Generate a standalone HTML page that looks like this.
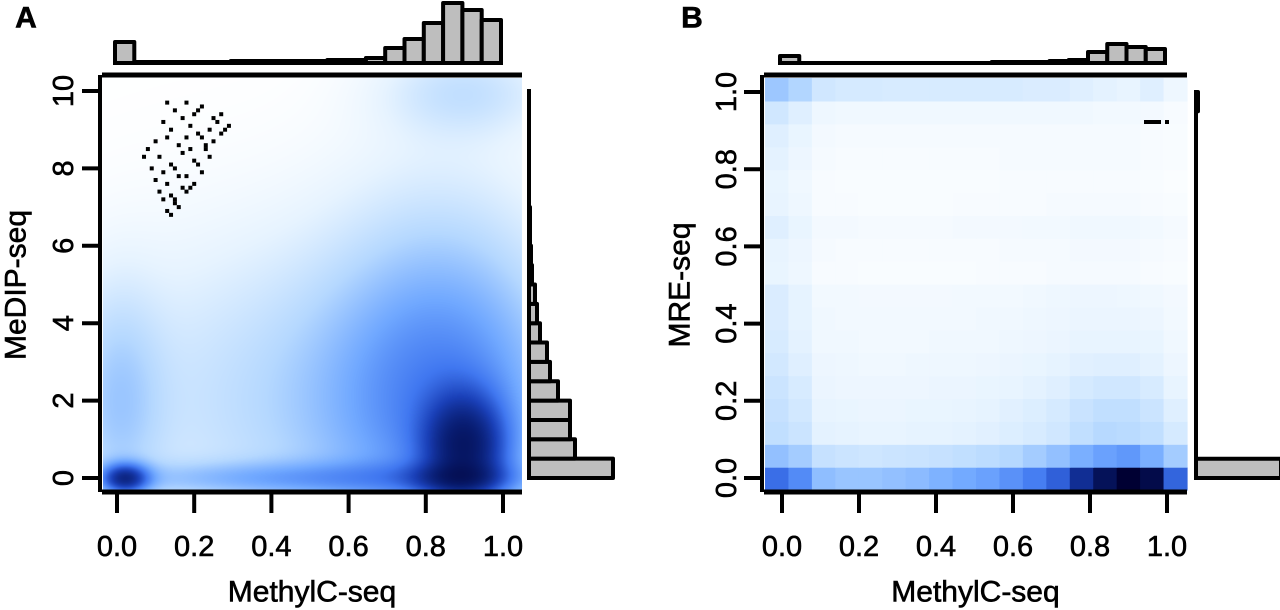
<!DOCTYPE html>
<html><head><meta charset="utf-8">
<style>
html,body{margin:0;padding:0;background:#fff;}
#wrap{position:relative;width:1280px;height:610px;overflow:hidden;font-family:"Liberation Sans",sans-serif;}
canvas{position:absolute;}
svg{position:absolute;left:0;top:0;}
</style></head>
<body>
<div id="wrap">
<canvas id="densA" width="419" height="412" style="left:103px;top:78px;width:419px;height:412px"></canvas>
<svg id="svg" width="1280" height="610"></svg>
</div>
<script>
// ---------- DATA ----------
const histATop = [21,1,1,1,1,1,2,2,2,2,2,3,3,5,15,24,40,60,53,43];
const histARight = [84,46,41,41,29,21,18,11,8,6,3,2,1,1,0,0,0,0,0,0];
const histBTop = [7,0,0,0,0,0,0,0,0,0,0,1,1,1,2,3,11,19,16,14];
const histBRight = [85,0,0,0,0,0,0,0,0,0,0,0,0,0,0,0,0,0,0,2];
// Panel A density mixture components
const compX = [0.9, 0.88, 0.02, 0.5, 0.85, 0.5, 0.9, 0.0, 0.85];
const compY = [0.8, 0.0, 0.0, 0.0, 2.0, 2.0, 10.0, 2.0, 6.0];
const compSX = [0.07, 0.08, 0.04, 0.35, 0.2, 0.4, 0.15, 0.08, 0.2];
const compSY = [0.9, 0.25, 0.25, 0.3, 2.5, 3.0, 0.8, 2.0, 2.5];
const compW = [1.2, 0.5, 1.1, 0.35, 0.55, 0.26, 0.2, 0.25, 0.1];
// Panel A outlier points
const ptsX = [0.13,0.15,0.18,0.2,0.22,0.25,0.27,0.12,0.14,0.17,0.19,0.21,0.24,0.26,0.1,0.13,0.16,0.19,0.22,0.25,0.28,0.08,0.11,0.14,0.17,0.2,0.23,0.09,0.12,0.15,0.18,0.21,0.24,0.1,0.13,0.16,0.19,0.22,0.11,0.14,0.17,0.2,0.12,0.15,0.18,0.13,0.16,0.14,0.15,0.23,0.27,0.29,0.07,0.18,0.21];
const ptsY = [9.7,9.5,9.7,9.4,9.6,9.3,9.4,9.2,9.0,9.3,9.1,8.9,9.0,9.2,8.7,8.8,8.6,8.5,8.8,8.7,9.0,8.5,8.3,8.1,8.4,8.2,8.5,8.0,7.9,8.0,7.8,8.1,8.3,7.7,7.6,7.8,7.5,7.9,7.4,7.3,7.5,7.6,7.2,7.1,7.4,6.9,7.0,6.8,7.2,8.6,8.9,9.1,8.3,8.8,9.5];
// Panel B heatmap intensities (rows bottom->top)
const gridB = [
[72,64,46,43,43,45,47,51,54,57,62,68,75,87,95,100,97,74],
[45,40,28,26,25,26,27,28,30,32,35,40,45,52,57,60,52,40],
[30,26,16,15,14,14,15,15,16,17,19,21,24,30,34,33,30,22],
[28,23,14,13,12,12,13,13,14,15,17,19,22,27,30,30,26,18],
[26,21,12,11,11,11,11,12,12,13,14,16,18,22,24,24,21,14],
[23,18,11,10,9,9,10,10,10,11,12,13,15,17,18,18,16,11],
[21,16,9,9,8,8,8,9,9,9,10,11,12,14,14,14,13,9],
[20,15,9,8,8,8,8,8,8,9,9,10,11,12,12,12,11,8],
[20,15,8,8,7,7,7,7,8,8,8,9,10,11,11,10,9,7],
[13,10,5,5,4,4,4,4,4,5,5,5,6,6,6,6,5,4],
[14,11,6,5,5,5,5,5,5,5,6,6,6,7,7,7,6,5],
[18,13,7,7,6,6,6,6,7,7,7,8,8,9,9,9,8,6],
[14,10,5,5,4,4,4,4,5,5,5,5,6,6,6,6,5,4],
[13,9,5,4,4,4,4,4,4,4,5,5,5,5,5,5,4,3],
[16,11,6,5,5,5,5,5,5,5,6,6,6,6,6,6,5,4],
[18,13,7,6,6,6,6,6,6,6,6,6,6,6,6,6,5,4],
[24,18,10,9,9,9,9,9,9,9,9,9,9,9,8,8,7,5],
[42,36,24,22,22,21,21,21,21,21,21,20,20,18,16,14,18,10]
];
const xTicks = [0,0.2,0.4,0.6,0.8,1.0];
const xTickLabels = ["0.0","0.2","0.4","0.6","0.8","1.0"];
const yTicksA = [0,2,4,6,8,10];
const yTickLabelsA = ["0","2","4","6","8","10"];
const yTicksB = [0,0.2,0.4,0.6,0.8,1.0];
const yTickLabelsB = ["0.0","0.2","0.4","0.6","0.8","1.0"];

// ---------- SCALES ----------
const xA = v => 117 + v*386;
const yA = v => 478 - v*38.7;
const xB = v => 782 + v*385;
const yB = v => 478 - v*386;

const stops = [[0,[255,255,255]],[0.15,[230,243,255]],[0.35,[181,216,255]],[0.55,[112,168,255]],[0.7,[64,119,240]],[0.82,[26,64,184]],[0.92,[8,28,112]],[1,[0,0,51]]];
function cmap(t){
  t=Math.max(0,Math.min(1,t));
  for(let i=1;i<stops.length;i++){
    if(t<=stops[i][0]){
      const a=stops[i-1],b=stops[i],f=(t-a[0])/(b[0]-a[0]);
      return [0,1,2].map(k=>Math.round(a[1][k]+(b[1][k]-a[1][k])*f));
    }
  }
  return stops[stops.length-1][1];
}

// ---------- Panel A density ----------
const cv=document.getElementById('densA'),ctx=cv.getContext('2d');
const img=ctx.createImageData(419,412);
for(let j=0;j<412;j++){
  const dy=(478-(78+j))/38.7;
  for(let i=0;i<419;i++){
    const dx=(103+i-117)/386;
    let s=0;
    for(let c=0;c<compW.length;c++){
      const u=(dx-compX[c])/compSX[c], w=(dy-compY[c])/compSY[c];
      s+=compW[c]*Math.exp(-0.5*(u*u+w*w));
    }
    const col=cmap(1-Math.exp(-1.5*s)), p=(j*419+i)*4;
    img.data[p]=col[0];img.data[p+1]=col[1];img.data[p+2]=col[2];img.data[p+3]=255;
  }
}
ctx.putImageData(img,0,0);

// ---------- SVG ----------
const NS='http://www.w3.org/2000/svg', svg=document.getElementById('svg');
function mk(tag,attrs,parent){const e=document.createElementNS(NS,tag);for(const k in attrs)e.setAttribute(k,attrs[k]);(parent||svg).appendChild(e);return e;}
function txt(s,x,y,size,rot,weight){const t=mk('text',{x:x,y:y,'font-size':size,'text-anchor':'middle','dominant-baseline':'central','font-family':'Liberation Sans, sans-serif',fill:'#000',stroke:'#000','stroke-width':0.6});if(weight)t.setAttribute('font-weight',weight);if(rot)t.setAttribute('transform','rotate(-90 '+x+' '+y+')');t.textContent=s;return t;}

ptsX.forEach((v,i)=>{
  const r=mk('rect',{x:xA(v)-2,y:yA(ptsY[i])-2,width:4,height:4,fill:'#000'});
  
  
});

// grid B
const nC=18,nR=18,gx0=765,gx1=1187,gy0=78,gy1=490;
const cw=(gx1-gx0)/nC, ch=(gy1-gy0)/nR;
gridB.forEach((row,ri)=>row.forEach((v,ci)=>{
  const c=cmap(v/100);
  const r=mk('rect',{x:gx0+ci*cw,y:gy1-(ri+1)*ch,width:cw+0.6,height:ch+0.6,fill:'rgb('+c.join(',')+')'});
  
  
}));
mk('rect',{x:1144,y:120,width:17,height:4,fill:'#000'});
mk('rect',{x:1165,y:120,width:4,height:4,fill:'#000'});

const HS={fill:'#bebebe',stroke:'#000','stroke-width':4,'stroke-linejoin':'round'};
function topHist(data,xs,base,name){
  const bw=xs(0.05)-xs(0);
  const x0=xs(0)-4, x1=xs(data.length*0.05);
  const bl=mk('rect',{x:x0,y:base-2,width:x1-x0,height:4,fill:'#000'});
  
  
  data.forEach((v,i)=>{
    if(v<=0) return;
    const r=mk('rect',Object.assign({x:xs(i*0.05)-2,y:base-v,width:bw,height:v},HS));
    
    
  });
}
function rightHist(data,ys,step,base,name){
  const bh=ys(0)-ys(step);
  const y0=ys(data.length*step)-2, y1=ys(0)+2;
  const bl=mk('rect',{x:base-2,y:y0,width:4,height:y1-y0,fill:'#000'});
  
  
  data.forEach((v,i)=>{
    if(v<=0) return;
    const r=mk('rect',Object.assign({x:base,y:ys((i+1)*step),width:v,height:bh},HS));
    
    
  });
}
topHist(histATop,xA,63,'top-histogram-bar-a');
rightHist(histARight,yA,0.5,529,'right-histogram-bar-a');
topHist(histBTop,xB,63,'top-histogram-bar-b');
rightHist(histBRight,yB,0.05,1196,'right-histogram-bar-b');

function axes(x0,x1,xs,ys,yt,ytl,xtl,letter,lx,ylab,ylabx,ytlx){
  mk('line',{x1:x0,y1:75,x2:x1,y2:75,stroke:'#000','stroke-width':5});
  mk('line',{x1:x0,y1:492,x2:x1,y2:492,stroke:'#000','stroke-width':5});
  mk('line',{x1:x0-2,y1:75,x2:x0-2,y2:492,stroke:'#000','stroke-width':4});
  xTicks.forEach((v,i)=>{
    mk('line',{x1:xs(v),y1:492,x2:xs(v),y2:513,stroke:'#000','stroke-width':4});
    const t=txt(xtl[i],xs(v),547,29);
    
    
  });
  yt.forEach((v,i)=>{
    mk('line',{x1:x0-20,y1:ys(v),x2:x0-2,y2:ys(v),stroke:'#000','stroke-width':4});
    const t=txt(ytl[i],ytlx,ys(v),29,true);
    
    
  });
  const xt=txt('MethylC-seq',(x0+x1)/2,592,30);
  
  
  const yl=txt(ylab,ylabx,285,30,true);
  
  
  const L=txt(letter,lx,18,30,false,'bold');
  
  
}
axes(102,522,xA,yA,yTicksA,yTickLabelsA,xTickLabels,'A',26,'MeDIP-seq',16,64);
axes(764,1187,xB,yB,yTicksB,yTickLabelsB,xTickLabels,'B',692,'MRE-seq',680,727);
</script>
</body></html>
